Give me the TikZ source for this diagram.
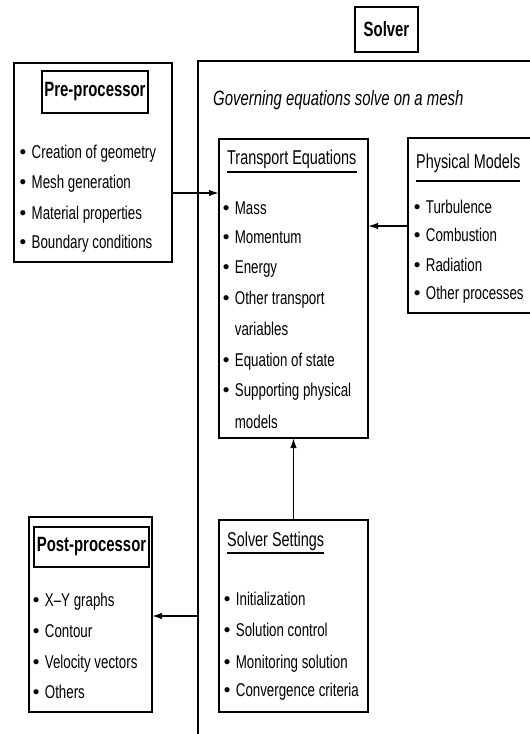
\documentclass[tikz,border=0pt]{standalone}
\usepackage{fontspec}
\setmainfont{Liberation Sans}[FakeStretch=0.72]
\newfontfamily\bulfont{Liberation Sans}
\usetikzlibrary{arrows.meta}
\newcommand\bl{\makebox[12pt][l]{\bulfont\fontsize{19}{20}\selectfont\textbullet}}
\newcommand\bi{\hspace*{12pt}}
\begin{document}
\begin{tikzpicture}[x=1pt,y=-1pt,
  box/.style={draw, line width=1.5pt, inner sep=0pt, outer sep=0pt, anchor=north west},
  itm/.style={anchor=base west, inner sep=0pt, font=\fontsize{18.5}{20}\selectfont},
  hd/.style={anchor=base west, inner sep=0pt, font=\fontsize{20}{22}\selectfont},
  bt/.style={anchor=center, inner sep=0pt, font=\bfseries\fontsize{20.7}{22}\selectfont},
  gv/.style={anchor=base west, inner sep=0pt, font=\itshape\fontsize{20.7}{22}\selectfont},
  arr/.style={line width=1.5pt, -{Latex[length=10pt,width=6.5pt]}},
  uline/.style={line width=1.4pt},
  frm/.style={line width=1.3pt}]
\useasboundingbox (0,0) rectangle (530,734);

% Solver label
\node[box, minimum width=63pt, minimum height=45pt] (solverbox) at (355,7) {};
\node[bt] (solver) at (solverbox.center) {Solver};

% Solver frame
\coordinate (ftl) at (198,61);
\coordinate (ftr) at (533,61);
\coordinate (fbl) at (198,736);
\draw[frm] (ftr) -- (ftl) -- (fbl);
\node[gv] (gov) at (213,105) {Governing equations solve on a mesh};

% Pre-processor
\node[box, minimum width=158pt, minimum height=199pt] (pre) at (14,63) {};
\node[box, minimum width=106pt, minimum height=42pt] (pretitlebox) at (42,71) {};
\node[bt] (pretitle) at (pretitlebox.center) {Pre-processor};
\foreach \t/\y [count=\i] in {Creation of geometry/158.5, Mesh generation/188.5, Material properties/219.5, Boundary conditions/248.5}
  \node[itm] (pre\i) at (19.5,\y) {\bl\t};

% Transport equations
\node[box, minimum width=149pt, minimum height=299pt] (trans) at (219,139) {};
\node[hd] (transtitle) at (227,164) {Transport Equations};
\draw[uline] (transtitle.west |- 0,172) -- (transtitle.east |- 0,172);
\foreach \t/\y [count=\i] in {\bl Mass/214.5, \bl Momentum/243.5, \bl Energy/273.5, \bl Other transport/304.5, \bi variables/335.5, \bl Equation of state/366.5, \bl Supporting physical/396.5, \bi models/428.5}
  \node[itm] (tr\i) at (222.7,\y) {\t};

% Physical models
\node[box, minimum width=125pt, minimum height=175pt] (phys) at (408,138) {};
\node[hd] (phystitle) at (416,168) {Physical Models};
\draw[uline] (phystitle.west |- 0,181) -- (phystitle.east |- 0,181);
\foreach \t/\y [count=\i] in {Turbulence/213.5, Combustion/241.5, Radiation/271.5, Other processes/299.5}
  \node[itm] (ph\i) at (413.7,\y) {\bl\t};

% Solver settings
\node[box, minimum width=149pt, minimum height=192pt] (set) at (219,520) {};
\node[hd] (settitle) at (227,546) {Solver Settings};
\draw[uline] (settitle.west |- 0,553) -- (settitle.east |- 0,553);
\foreach \t/\y [count=\i] in {Initialization/605.5, Solution control/636.5, Monitoring solution/668.5, Convergence criteria/696.5}
  \node[itm] (se\i) at (223.7,\y) {\bl\t};

% Post-processor
\node[box, minimum width=123pt, minimum height=195pt] (post) at (29,517) {};
\node[box, minimum width=115pt, minimum height=40pt] (posttitlebox) at (34,527) {};
\node[bt] (posttitle) at (posttitlebox.center) {Post-processor};
\foreach \t/\y [count=\i] in {X--Y graphs/606.5, Contour/637.5, Velocity vectors/668.5, Others/698.5}
  \node[itm] (po\i) at (32.7,\y) {\bl\t};

% Connectors
\coordinate (a1) at (0,193);
\draw[arr] (pre.east |- a1) -- (trans.west |- a1);
\coordinate (a2) at (0,226);
\draw[arr] (phys.west |- a2) -- (trans.east |- a2);
\draw[arr] (set.north) -- (trans.south);
\coordinate (a4) at (198,616);
\draw[arr] (a4) -- (post.east |- a4);
\end{tikzpicture}
\end{document}
